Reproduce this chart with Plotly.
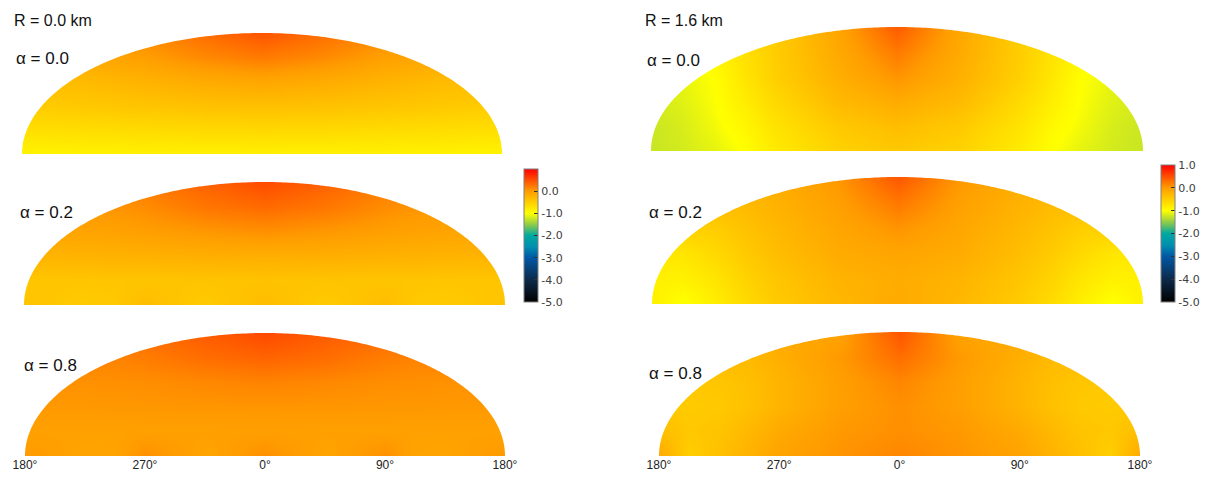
import numpy as np
import plotly.graph_objects as go

# grid: horizontal position across each dome (-1 = 180 deg left, 1 = 180 deg right)
# and height above the horizon (0 = bottom edge, 1 = top of dome)
x_cols = [-1, -0.875, -0.75, -0.625, -0.5, -0.25, 0, 0.25, 0.5, 0.625, 0.75, 0.875, 1]
y_rows = [0, 0.2, 0.4, 0.6, 0.8, 1.0]

tick_pos = [-1, -0.5, 0, 0.5, 1]
tick_text = ["180°", "270°", "0°", "90°", "180°"]

cbar_left_ticks = [0, -1, -2, -3, -4, -5]
cbar_right_ticks = [1, 0, -1, -2, -3, -4, -5]

# R = 0.0 km
z_r00_a00 = [
    [-0.88, -0.88, -0.87, -0.87, -0.86, -0.86, -0.85, -0.86, -0.86, -0.87, -0.87, -0.88, -0.88],
    [-0.68, -0.67, -0.66, -0.65, -0.64, -0.62, -0.61, -0.62, -0.64, -0.65, -0.66, -0.67, -0.68],
    [-0.48, -0.47, -0.45, -0.43, -0.41, -0.38, -0.36, -0.38, -0.41, -0.43, -0.45, -0.47, -0.48],
    [-0.32, -0.32, -0.31, -0.27, -0.23, -0.15, -0.10, -0.15, -0.23, -0.27, -0.31, -0.32, -0.32],
    [-0.12, -0.12, -0.12, -0.08, -0.03, 0.12, 0.22, 0.12, -0.03, -0.08, -0.12, -0.12, -0.12],
    [0.10, 0.10, 0.10, 0.10, 0.12, 0.30, 0.46, 0.30, 0.12, 0.10, 0.10, 0.10, 0.10],
]
z_r00_a02 = [
    [-0.40, -0.43, -0.47, -0.45, -0.33, -0.47, -0.33, -0.47, -0.33, -0.45, -0.47, -0.43, -0.40],
    [-0.42, -0.42, -0.42, -0.41, -0.41, -0.40, -0.39, -0.40, -0.41, -0.41, -0.42, -0.42, -0.42],
    [-0.24, -0.24, -0.23, -0.22, -0.21, -0.19, -0.18, -0.19, -0.21, -0.22, -0.23, -0.24, -0.24],
    [-0.08, -0.08, -0.08, -0.06, -0.03, 0.03, 0.08, 0.03, -0.03, -0.06, -0.08, -0.08, -0.08],
    [0.05, 0.05, 0.05, 0.05, 0.10, 0.24, 0.32, 0.24, 0.10, 0.05, 0.05, 0.05, 0.05],
    [0.20, 0.20, 0.20, 0.20, 0.22, 0.38, 0.52, 0.38, 0.22, 0.20, 0.20, 0.20, 0.20],
]
z_r00_a08 = [
    [0.02, -0.03, -0.08, -0.07, 0.08, -0.08, 0.08, -0.08, 0.08, -0.07, -0.08, -0.03, 0.02],
    [-0.05, -0.05, -0.05, -0.05, -0.04, -0.04, -0.03, -0.04, -0.04, -0.05, -0.05, -0.05, -0.05],
    [0.02, 0.02, 0.02, 0.03, 0.03, 0.04, 0.04, 0.04, 0.03, 0.03, 0.02, 0.02, 0.02],
    [0.07, 0.07, 0.07, 0.08, 0.09, 0.13, 0.16, 0.13, 0.09, 0.08, 0.07, 0.07, 0.07],
    [0.16, 0.16, 0.16, 0.16, 0.20, 0.30, 0.36, 0.30, 0.20, 0.16, 0.16, 0.16, 0.16],
    [0.28, 0.28, 0.28, 0.28, 0.30, 0.42, 0.53, 0.42, 0.30, 0.28, 0.28, 0.28, 0.28],
]

# R = 1.6 km
z_r16_a00 = [
    [-1.25, -1.20, -1.12, -1.00, -0.80, -0.55, -0.45, -0.55, -0.80, -1.00, -1.12, -1.20, -1.25],
    [-1.24, -1.18, -1.06, -0.92, -0.72, -0.45, -0.33, -0.45, -0.72, -0.92, -1.06, -1.18, -1.24],
    [-1.20, -1.14, -1.02, -0.82, -0.62, -0.30, -0.15, -0.30, -0.62, -0.82, -1.02, -1.14, -1.20],
    [-1.12, -1.10, -1.00, -0.75, -0.52, -0.20, 0.05, -0.20, -0.52, -0.75, -1.00, -1.10, -1.12],
    [-0.90, -0.90, -0.90, -0.70, -0.50, -0.14, 0.22, -0.14, -0.50, -0.70, -0.90, -0.90, -0.90],
    [-0.60, -0.60, -0.60, -0.60, -0.50, -0.10, 0.42, -0.10, -0.50, -0.60, -0.60, -0.60, -0.60],
]
z_r16_a02 = [
    [-0.85, -1.02, -0.84, -0.64, -0.47, -0.28, -0.14, -0.28, -0.47, -0.64, -0.84, -1.02, -0.85],
    [-0.85, -0.86, -0.75, -0.56, -0.42, -0.24, -0.16, -0.24, -0.42, -0.56, -0.75, -0.86, -0.85],
    [-0.76, -0.74, -0.62, -0.47, -0.34, -0.16, -0.09, -0.16, -0.34, -0.47, -0.62, -0.74, -0.76],
    [-0.52, -0.52, -0.50, -0.39, -0.28, -0.10, 0.05, -0.10, -0.28, -0.39, -0.50, -0.52, -0.52],
    [-0.32, -0.32, -0.32, -0.30, -0.22, -0.04, 0.24, -0.04, -0.22, -0.30, -0.32, -0.32, -0.32],
    [-0.22, -0.22, -0.22, -0.22, -0.17, 0.03, 0.45, 0.03, -0.17, -0.22, -0.22, -0.22, -0.22],
]
z_r16_a08 = [
    [-0.12, -0.52, -0.36, -0.22, -0.07, 0.05, 0.14, 0.05, -0.07, -0.22, -0.36, -0.52, -0.12],
    [-0.34, -0.44, -0.40, -0.28, -0.14, 0.02, 0.08, 0.02, -0.14, -0.28, -0.40, -0.44, -0.34],
    [-0.45, -0.47, -0.45, -0.37, -0.24, -0.03, 0.08, -0.03, -0.24, -0.37, -0.45, -0.47, -0.45],
    [-0.44, -0.44, -0.42, -0.35, -0.24, -0.03, 0.14, -0.03, -0.24, -0.35, -0.42, -0.44, -0.44],
    [-0.30, -0.30, -0.30, -0.30, -0.19, 0.01, 0.30, 0.01, -0.19, -0.30, -0.30, -0.30, -0.30],
    [-0.20, -0.20, -0.20, -0.20, -0.14, -0.07, 0.46, -0.07, -0.14, -0.20, -0.20, -0.20, -0.20],
]

# the page body has an 8px margin, so the figure starts 8px in from the window corner
OFF = 8
W, H = 1213 - OFF, 488 - OFF


def px_x(p):
    return (p - OFF) / W


def px_y(p):
    return 1 - (p - OFF) / H


colorscale = [
    [0.0, "#000000"], [1 / 6, "#0d2a4a"], [2 / 6, "#0058a6"], [2.5 / 6, "#0090b0"],
    [3 / 6, "#00a8a0"], [3.5 / 6, "#90cc48"], [4 / 6, "#ffff00"], [5 / 6, "#ff9c00"],
    [1.0, "#ff0000"],
]

# panel boxes in window pixels: left, right, top, bottom
panels = [
    (z_r00_a00, "coloraxis", (22, 502, 33, 154)),
    (z_r00_a02, "coloraxis", (24, 505, 182, 305)),
    (z_r00_a08, "coloraxis", (25, 505, 333, 456)),
    (z_r16_a00, "coloraxis2", (651, 1143, 27, 151)),
    (z_r16_a02, "coloraxis2", (652, 1143, 177, 304)),
    (z_r16_a08, "coloraxis2", (659, 1140, 332, 456)),
]

fig = go.Figure()

t = np.linspace(np.pi, 0, 241)

for i, (z, cax, (x0, x1, y0, y1)) in enumerate(panels, start=1):
    sfx = "" if i == 1 else str(i)
    fig.add_trace(go.Heatmap(
        x=x_cols, y=y_rows, z=z, zsmooth="best", coloraxis=cax,
        xaxis="x" + sfx, yaxis="y" + sfx, hoverinfo="skip",
    ))
    bottom = i in (3, 6)
    fig.update_layout(**{
        "xaxis" + sfx: dict(
            domain=[px_x(x0), px_x(x1)], range=[-1, 1], anchor="y" + sfx,
            showgrid=False, zeroline=False, showline=False, ticks="",
            tickvals=tick_pos, ticktext=tick_text, showticklabels=bottom,
            tickfont=dict(family="Liberation Sans", size=12, color="#222"),
        ),
        "yaxis" + sfx: dict(
            domain=[px_y(y1), px_y(y0)], range=[0, 1], anchor="x" + sfx,
            showgrid=False, zeroline=False, showline=False, showticklabels=False,
        ),
    })
    # white mask over the part of the panel box outside the half-ellipse (paper coords, unclipped)
    cx, hw = (px_x(x0) + px_x(x1)) / 2, (px_x(x1) - px_x(x0)) / 2
    by, hh = px_y(y1), px_y(y0) - px_y(y1)
    pts = " ".join(f"L {cx + hw * np.cos(a):.5f},{by + hh * np.sin(a):.5f}" for a in t)
    pad_x, pad_y = 4 / W, 4 / H
    path = (f"M {cx - hw - pad_x:.5f},{by:.5f} {pts} L {cx + hw + pad_x:.5f},{by:.5f} "
            f"L {cx + hw + pad_x:.5f},{by + hh + pad_y:.5f} L {cx - hw - pad_x:.5f},{by + hh + pad_y:.5f} Z")
    fig.add_shape(type="path", path=path, xref="paper", yref="paper",
                  fillcolor="white", line=dict(width=0), layer="above")

cbar_font = dict(family="DejaVu Sans", size=11, color="#404040")
fig.update_layout(
    coloraxis=dict(
        colorscale=colorscale, cmin=-5, cmax=1,
        colorbar=dict(
            x=px_x(524), xanchor="left", y=px_y(169), yanchor="top",
            len=133, lenmode="pixels", thickness=14, xpad=0, ypad=0,
            outlinecolor="#808080", outlinewidth=1,
            tickvals=cbar_left_ticks, ticktext=[f"{v:.1f}" for v in cbar_left_ticks],
            ticks="inside", ticklen=4, tickcolor="#333", tickfont=cbar_font,
        ),
    ),
    coloraxis2=dict(
        colorscale=colorscale, cmin=-5, cmax=1,
        colorbar=dict(
            x=px_x(1161), xanchor="left", y=px_y(165), yanchor="top",
            len=137, lenmode="pixels", thickness=14, xpad=0, ypad=0,
            outlinecolor="#808080", outlinewidth=1,
            tickvals=cbar_right_ticks, ticktext=[f"{v:.1f}" for v in cbar_right_ticks],
            ticks="inside", ticklen=4, tickcolor="#333", tickfont=cbar_font,
        ),
    ),
)

labels = [
    ("R = 0.0 km", 12, 20, 16), ("α = 0.0", 14, 59, 17), ("α = 0.2", 18, 213, 17),
    ("α = 0.8", 22, 365, 17), ("R = 1.6 km", 643, 20, 16), ("α = 0.0", 645, 60, 17),
    ("α = 0.2", 647, 213, 17), ("α = 0.8", 647, 373, 17),
]
for text, px, py, size in labels:
    fig.add_annotation(
        text=text, x=px_x(px), y=px_y(py), xref="paper", yref="paper",
        xanchor="left", yanchor="middle", showarrow=False,
        font=dict(family="Liberation Sans", size=size, color="#111"),
    )

fig.update_layout(
    width=W, height=H, margin=dict(l=0, r=0, t=0, b=0, autoexpand=False),
    paper_bgcolor="white", plot_bgcolor="white", showlegend=False,
)

fig.write_html("out.html")
